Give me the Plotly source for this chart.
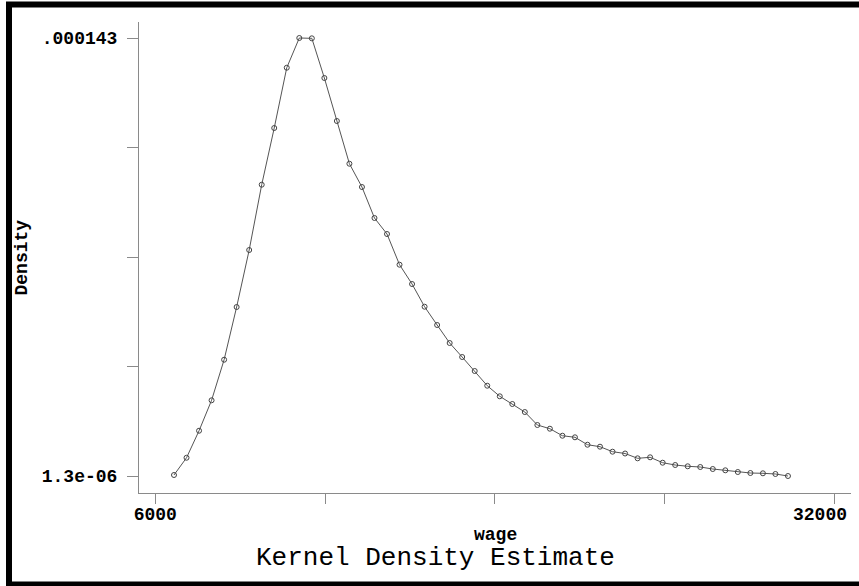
import plotly.graph_objects as go

# Data (Stata-style kernel density of wage, 50 grid points)
wage = [6716, 7196, 7676, 8155, 8635, 9115, 9595, 10075, 10554, 11034,
        11514, 11994, 12474, 12953, 13433, 13913, 14393, 14873, 15352, 15832,
        16312, 16792, 17272, 17751, 18231, 18711, 19191, 19671, 20150, 20630,
        21110, 21590, 22070, 22549, 23029, 23509, 23989, 24469, 24948, 25428,
        25908, 26388, 26868, 27347, 27827, 28307, 28787, 29267, 29746, 30226]
density = [1.62e-6, 7.2e-6, 1.595e-5, 2.579e-5, 3.892e-5, 5.597e-5, 7.441e-5, 9.554e-5, 1.1388e-4, 1.3339e-4,
           1.43e-4, 1.429e-4, 1.3006e-4, 1.1615e-4, 1.0233e-4, 9.48e-5, 8.477e-5, 7.959e-5, 6.966e-5, 6.341e-5,
           5.607e-5, 5.015e-5, 4.433e-5, 3.98e-5, 3.527e-5, 3.051e-5, 2.708e-5, 2.459e-5, 2.2e-5, 1.78e-5,
           1.66e-5, 1.433e-5, 1.382e-5, 1.142e-5, 1.078e-5, 9.16e-6, 8.58e-6, 7.02e-6, 7.35e-6, 5.6e-6,
           4.86e-6, 4.44e-6, 4.21e-6, 3.56e-6, 3.14e-6, 2.59e-6, 2.27e-6, 2.17e-6, 1.95e-6, 1.3e-6]

x_tickvals = [6000, 12500, 19000, 25500, 32000]
x_ticktext = ["6000", "", "", "", ""]
x_last_label = "32000"
y_tickvals = [0.0000013, 0.000036725, 0.00007215, 0.000107575, 0.000143]
y_ticktext = ["1.3e-06", "", "", "", ".000143"]

W, H = 859, 586
L, R, T, B = 139, 8, 22, 93
pw, ph = W - L - R, H - T - B

def px_x(p):
    return (p - L) / pw

def px_y(p):
    return (H - B - p) / ph

MONO = "Liberation Mono, Courier New, monospace"
AXC = "#8a8a8a"

fig = go.Figure()
fig.add_trace(go.Scatter(
    x=wage, y=density, mode="lines+markers",
    line=dict(color="#555555", width=1),
    marker=dict(symbol="circle-open", size=5, color="#444444", line=dict(width=1)),
    showlegend=False, hoverinfo="skip",
))

fig.update_layout(
    width=W, height=H,
    margin=dict(l=L, r=R, t=T, b=B, autoexpand=False),
    paper_bgcolor="white", plot_bgcolor="white",
    xaxis=dict(range=[5376, 32640], showgrid=False, zeroline=False, automargin=False,
               showline=True, linecolor=AXC, linewidth=1,
               ticks="outside", ticklen=10, tickcolor=AXC, tickwidth=1,
               tickvals=x_tickvals, ticktext=x_ticktext,
               ticklabeloverflow="allow", ticklabelstandoff=-6,
               tickfont=dict(family=MONO, size=18, color="black", weight="bold")),
    yaxis=dict(range=[-4.2e-6, 1.4818e-4], showgrid=False, zeroline=False, automargin=False,
               showline=True, linecolor=AXC, linewidth=1,
               ticks="outside", ticklen=11, tickcolor=AXC, tickwidth=1,
               tickvals=y_tickvals, ticktext=y_ticktext,
               ticklabelstandoff=6, ticklabeloverflow="allow",
               tickfont=dict(family=MONO, size=18, color="black", weight="bold")),
)

# last x tick label is pulled inside the frame, as in the reference
fig.add_annotation(x=px_x(849), y=px_y(515), xref="paper", yref="paper",
                   text=x_last_label, showarrow=False, xanchor="right", yanchor="middle",
                   font=dict(family=MONO, size=18, color="black", weight="bold"))
fig.add_annotation(x=0.5, y=px_y(535), xref="paper", yref="paper",
                   text="wage", showarrow=False, xanchor="center", yanchor="middle",
                   font=dict(family=MONO, size=18, color="black", weight="bold"))
fig.add_annotation(x=px_x(21), y=0.5, xref="paper", yref="paper",
                   text="Density", showarrow=False, textangle=-90,
                   xanchor="center", yanchor="middle",
                   font=dict(family=MONO, size=18, color="black", weight="bold"))
fig.add_annotation(x=px_x(435), y=px_y(558), xref="paper", yref="paper",
                   text="Kernel Density Estimate", showarrow=False,
                   xanchor="center", yanchor="middle",
                   font=dict(family=MONO, size=26, color="black"))

# outer black frame (top, left, bottom; the right side lies past the picture edge)
frame = dict(color="black", width=6)
fig.add_shape(type="line", xref="paper", yref="paper", layer="above",
              x0=px_x(6), x1=px_x(860), y0=px_y(4.5), y1=px_y(4.5), line=frame)
fig.add_shape(type="line", xref="paper", yref="paper", layer="above",
              x0=px_x(9), x1=px_x(9), y0=px_y(2), y1=px_y(586), line=frame)
fig.add_shape(type="line", xref="paper", yref="paper", layer="above",
              x0=px_x(6), x1=px_x(860), y0=px_y(584.5), y1=px_y(584.5), line=frame)

fig.write_html("out.html", config={"displayModeBar": False},
               post_script="document.body.style.margin='0';document.body.style.overflow='hidden';")
